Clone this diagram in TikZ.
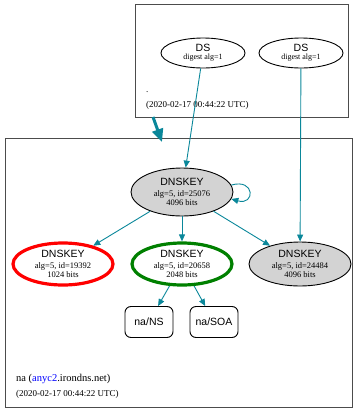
\documentclass[tikz,border=0pt]{standalone}
\usepackage{fontspec}
\setmainfont{Liberation Serif}
\newfontfamily\sansf{Liberation Sans}
\usepackage{xcolor}
\usepackage{tikz}
\usetikzlibrary{shapes,arrows.meta,positioning,calc}
\definecolor{secure}{RGB}{10,135,154}
\definecolor{keygray}{RGB}{211,211,211}
\definecolor{keygreen}{RGB}{0,128,0}
\newcommand{\hdr}[1]{{\sansf\fontsize{10.5}{11}\selectfont #1}}
\tikzset{
  keynode/.style={ellipse, draw, line width=0.9pt, minimum width=102pt, minimum height=48pt, inner sep=0pt, align=center, font=\fontsize{8.5}{8.5}\selectfont},
  dsnode/.style={ellipse, draw, line width=0.9pt, minimum width=84pt, minimum height=30pt, inner sep=0pt, align=center, font=\fontsize{8}{8}\selectfont},
  rrnode/.style={rectangle, rounded corners=6pt, draw, line width=0.9pt, minimum height=31pt, minimum width=48pt, inner sep=3pt, font=\sansf\fontsize{10.5}{12}\selectfont},
  edge/.style={draw=secure, line width=0.9pt, -{Triangle[length=7pt,width=6pt]}},
  zone/.style={draw=black!70, line width=1pt},
  label/.style={anchor=base west, inner sep=0pt, font=\fontsize{9}{10}\selectfont},
}

\begin{document}
\begin{tikzpicture}[x=1pt, y=-1pt]
    \useasboundingbox (0,0) rectangle (353,408);

    % zones
    \draw [zone] (135,4) rectangle (348,117);
    \draw [zone] (5,138) rectangle (352,407);

    \node [dsnode] (ds1) at (203,53) {\hdr{DS}\\digest alg=1};
    \node [dsnode] (ds2) at (301,53) {\hdr{DS}\\digest alg=1};
    \node [label] (dot) at (146,92) {.};
    \node [label] (ts1) at (146,107) {(2020-02-17 00:44:22 UTC)};

    \node [keynode, fill=keygray] (k25076) at (182,192) {\hdr{DNSKEY}\\[2.5pt]alg=5, id=25076\\4096 bits};
    \node [keynode, draw=red, line width=3.2pt, minimum width=100pt, minimum height=42pt] (k19392) at (63,264) {\hdr{DNSKEY}\\[2.5pt]alg=5, id=19392\\1024 bits};
    \node [keynode, draw=keygreen, line width=3.2pt, minimum width=100pt, minimum height=42pt] (k20658) at (182,264) {\hdr{DNSKEY}\\[2.5pt]alg=5, id=20658\\2048 bits};
    \node [keynode, fill=keygray, minimum height=44pt] (k24484) at (300,264) {\hdr{DNSKEY}\\[2.5pt]alg=5, id=24484\\4096 bits};

    \node [rrnode] (ns) at (149,322) {na/NS};
    \node [rrnode] (soa) at (214,322) {na/SOA};

    \node [label, font=\fontsize{10.5}{12}\selectfont] (zonename) at (16,381) {na ({\color{blue}anyc2}.irondns.net)};
    \node [label] (ts2) at (16,396) {(2020-02-17 00:44:22 UTC)};

    % delegation
    \coordinate (cl1) at (153,117);
    \coordinate (cl2) at (162,142);
    \draw [edge, line width=3pt, -{Triangle[length=13pt,width=11pt]}] (cl1) -- (cl2);

    \draw [edge] (ds1) -- (k25076);
    \draw [edge] (ds2) -- (k24484);
    \draw [edge] (k25076.8) .. controls +(24,-7) and +(24,7) .. (k25076.-8);
    \draw [edge] (k25076) -- (k19392);
    \draw [edge] (k25076) -- (k20658);
    \draw [edge] (k25076) -- (k24484);
    \draw [edge] (k20658) -- (ns);
    \draw [edge] (k20658) -- (soa);
\end{tikzpicture}
\end{document}
